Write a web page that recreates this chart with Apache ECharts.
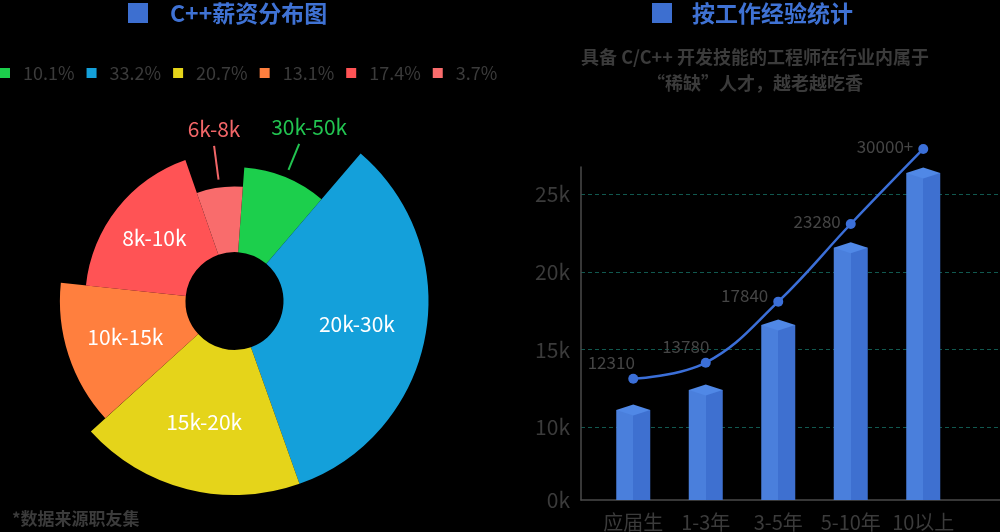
<!DOCTYPE html>
<html>
<head>
<meta charset="utf-8">
<script src="https://cdn.jsdelivr.net/npm/echarts@6/dist/echarts.min.js"></script>
<style>
html, body { margin: 0; padding: 0; background: #000; }
#main { width: 1000px; height: 532px; }
</style>
</head>
<body>
<div id="main"></div>
<script>
// left: salary distribution
let salaryRanges = ['30k-50k', '20k-30k', '15k-20k', '10k-15k', '8k-10k', '6k-8k'];
let salaryPct = ['10.1%', '33.2%', '20.7%', '13.1%', '17.4%', '3.7%'];
let sliceShare = [10.1, 33.3, 18.7, 13.4, 18.0, 6.5];   // angle share as drawn
let sliceReach = [69, 100, 100, 90, 77, 59];            // slice length, % of the longest one

// right: by years of experience
let expLevels = ['应届生', '1-3年', '3-5年', '5-10年', '10以上'];
let barValues = [11110, 12400, 16580, 21560, 26370];
let lineValues = [13130, 14160, 18090, 23090, 27920];
let lineLabels = ['12310', '13780', '17840', '23280', '30000+'];
let yTickValues = [5320, 10000, 15000, 20000, 25000];
let yTickLabels = ['0k', '10k', '15k', '20k', '25k'];
let yMax = 26760;

const FONT = 'Noto Sans CJK SC';
const TEXT_GREY = '#3b3b3b';
let pieColors = ['#1ccf4c', '#14a0da', '#e5d41a', '#ff7f3e', '#ff5355', '#f96c6c'];
let outsideLabelColors = { 0: '#22c451', 5: '#f26668' };
let outsideLineLength = { 0: 36, 5: 42 };

let myChart = echarts.init(document.getElementById('main'));

function buildPies(){
  let total = sliceShare.reduce(function(a, b){ return a + b; }, 0);
  let cum = 0;
  return salaryRanges.map(function(name, i){
    let start = 85.8 - cum / total * 360;
    cum += sliceShare[i];
    let outside = outsideLabelColors[i] != null;
    let s = {
      type: 'pie',
      center: [234.5, 301],
      radius: [49, 194 * sliceReach[i] / 100],
      startAngle: start,
      clockwise: true,
      avoidLabelOverlap: false,
      silent: true,
      animation: false,
      itemStyle: { borderWidth: 0 },
      emphasis: { disabled: true },
      label: outside ? {
        position: 'outside', color: outsideLabelColors[i], fontSize: 21, fontFamily: FONT
      } : {
        position: 'inside', color: '#fff', fontSize: 21, fontFamily: FONT
      },
      labelLine: {
        show: outside, length: outsideLineLength[i] || 20, length2: 0, smooth: false,
        lineStyle: { color: outsideLabelColors[i] || '#fff', width: 2 }
      },
      data: [
        { name: name, value: sliceShare[i], itemStyle: { color: pieColors[i] } },
        { name: '', value: total - sliceShare[i], itemStyle: { color: 'rgba(0,0,0,0)' },
          label: { show: false }, labelLine: { show: false } }
      ]
    };
    if(outside){
      // put the text centred above the end of its guide line, leave a gap at the slice edge
      s.labelLayout = function(p){
        let pts = p.labelLinePoints;
        if(!pts) return {};
        let a = pts[0], b = pts[1];
        let dx = b[0] - a[0], dy = b[1] - a[1];
        let len = Math.sqrt(dx * dx + dy * dy) || 1;
        let gap = 8;
        let a2 = [a[0] + dx / len * gap, a[1] + dy / len * gap];
        return {
          x: b[0] + (i === 0 ? 10 : 0), y: b[1] - 6, align: 'center', verticalAlign: 'bottom',
          labelLinePoints: [a2, b]
        };
      };
    }
    return s;
  });
}

let labelPlacement = [
  { position: 'top', offset: [-22, 0], distance: 3 },
  { position: 'top', offset: [-20, 0], distance: 3 },
  { position: 'left', offset: [0, -6], distance: 5 },
  { position: 'left', offset: [0, -2], distance: 5 },
  { position: 'left', offset: [0, -2], distance: 5 }
];

let option = {
  backgroundColor: '#000',
  textStyle: { fontFamily: FONT },
  title: [
    {
      left: 128, top: 0, padding: 0,
      text: '{box|}{t|C++薪资分布图}',
      textStyle: { rich: {
        box: { width: 20, height: 20, backgroundColor: '#3d6fd0' },
        t: { fontSize: 23, color: '#3f72d4', padding: [0, 0, 0, 22], fontFamily: FONT, lineHeight: 26 }
      } }
    },
    {
      left: 652, top: 0, padding: 0,
      text: '{box|}{t|按工作经验统计}',
      textStyle: { rich: {
        box: { width: 20, height: 20, backgroundColor: '#3d6fd0' },
        t: { fontSize: 23, color: '#3f72d4', padding: [0, 0, 0, 20], fontFamily: FONT, lineHeight: 26 }
      } }
    },
    {
      left: 755, top: 44, padding: 0, textAlign: 'center',
      text: '具备 C/C++ 开发技能的工程师在行业内属于\n“稀缺”人才，越老越吃香',
      textStyle: { fontSize: 18, fontWeight: 'bold', color: TEXT_GREY, lineHeight: 26, fontFamily: FONT }
    },
    {
      left: 12, top: 510, padding: 0,
      text: '*数据来源职友集',
      textStyle: { fontSize: 17, fontWeight: 'bold', color: TEXT_GREY, fontFamily: FONT }
    }
  ],
  legend: {
    left: 0, top: 64, padding: 0,
    itemWidth: 10, itemHeight: 10, itemGap: 12, icon: 'rect',
    selectedMode: false,
    data: salaryRanges.map(function(n, i){ return { name: n, itemStyle: { color: pieColors[i] } }; }),
    formatter: function(name){ return salaryPct[salaryRanges.indexOf(name)]; },
    textStyle: { color: TEXT_GREY, fontSize: 18, fontFamily: FONT, padding: [0, 0, 0, 8] }
  },
  grid: [
    { left: 581, right: 0, top: 167, bottom: 32, outerBoundsMode: 'none' },
    { left: 597, right: 40.5, top: 167, bottom: 32, outerBoundsMode: 'none' }
  ],
  xAxis: [
    {
      gridIndex: 0, type: 'value', min: 0, max: 1,
      axisLine: { show: true, onZero: false, lineStyle: { color: '#4a4a4a', width: 1.5 } },
      axisTick: { show: false }, axisLabel: { show: false }, splitLine: { show: false }
    },
    {
      gridIndex: 1, type: 'category', data: expLevels,
      axisLine: { show: false }, axisTick: { show: false }, splitLine: { show: false },
      axisLabel: { interval: 0, hideOverlap: false, color: TEXT_GREY, fontSize: 20, margin: 12, fontFamily: FONT }
    }
  ],
  yAxis: [
    {
      gridIndex: 0, type: 'value', min: yTickValues[0], max: yMax,
      axisLine: { show: true, lineStyle: { color: '#4a4a4a', width: 1.5 } },
      axisTick: { show: false, customValues: yTickValues.slice(1) },
      axisLabel: {
        customValues: yTickValues, color: TEXT_GREY, fontSize: 21, margin: 11, fontFamily: FONT,
        formatter: function(v){
          let i = yTickValues.indexOf(v);
          return i >= 0 ? yTickLabels[i] : '';
        }
      },
      splitLine: { show: true, showMinLine: true, showMaxLine: true,
        lineStyle: { type: [4, 3], color: '#11584f', width: 1 } }
    },
    { gridIndex: 1, type: 'value', min: yTickValues[0], max: yMax, show: false }
  ],
  series: buildPies().concat([
    {
      type: 'bar', xAxisIndex: 1, yAxisIndex: 1, barWidth: 34, animation: false, silent: true, z: 2,
      itemStyle: { color: { type: 'linear', x: 0, y: 0, x2: 1, y2: 0, colorStops: [
        { offset: 0, color: '#4a7fdc' }, { offset: 0.5, color: '#4a7fdc' },
        { offset: 0.5, color: '#3e70d0' }, { offset: 1, color: '#3e70d0' }
      ] } },
      data: barValues
    },
    {
      type: 'pictorialBar', xAxisIndex: 1, yAxisIndex: 1, animation: false, silent: true, z: 3,
      symbol: 'diamond', symbolSize: [34, 11], symbolPosition: 'end', symbolOffset: [0, '-50%'],
      itemStyle: { color: '#5088e6' }, clip: false,
      data: barValues
    },
    {
      type: 'line', xAxisIndex: 1, yAxisIndex: 1, animation: false, silent: true, z: 5,
      smooth: 0.4, clip: false, symbol: 'circle', symbolSize: 10,
      lineStyle: { color: '#3b6fd8', width: 2.5 },
      itemStyle: { color: '#3b6fd8' },
      data: lineValues.map(function(v, i){
        let pl = labelPlacement[i];
        return {
          value: v,
          label: {
            show: true, position: pl.position, offset: pl.offset, distance: pl.distance,
            formatter: lineLabels[i], color: '#454545', fontSize: 17, fontFamily: FONT
          }
        };
      })
    }
  ])
};

myChart.setOption(option);
</script>
</body>
</html>
